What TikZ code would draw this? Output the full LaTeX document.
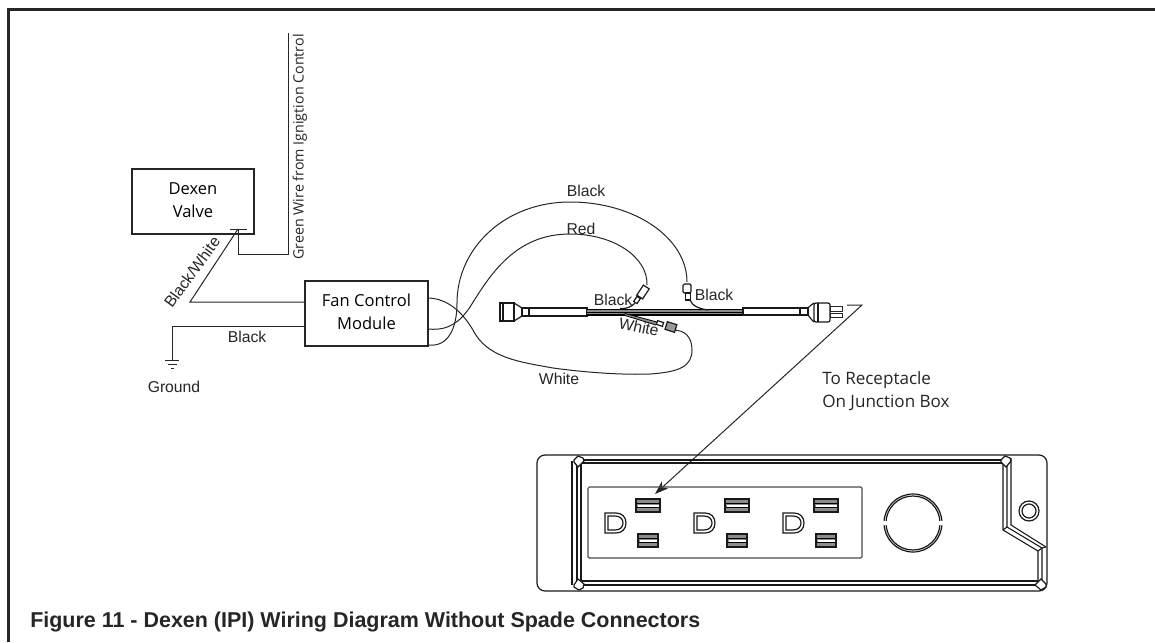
\documentclass[tikz,border=0pt]{standalone}
\usepackage{fontspec}
\setmainfont{Liberation Sans}
\newfontfamily\myr{Open Sans}
\usetikzlibrary{arrows.meta}
\tikzset{
 wire/.style={draw=black!85,line width=0.75pt},
 boxnode/.style={draw=black!85,line width=1.3pt,rectangle,inner sep=0pt,align=center,font=\myr\fontsize{12.4}{17.2}\selectfont},
 lab/.style={inner sep=0pt,font=\fontsize{11.8}{14}\selectfont,text=black!85},
 lbm/.style={inner sep=0pt,font=\myr\fontsize{10.7}{15}\selectfont,text=black!85},
 part/.style={draw=black!90,line width=0.9pt},
 fr/.style={draw=black!90,line width=0.8pt},
 gr/.style={draw=black!70,line width=0.9pt},
}
\newcommand{\slotbox}[4]{%
  \fill[black!45] (#1,#3) rectangle (#2,#4);
  \fill[white] ({#1+1.5},{#3+5.5}) rectangle ({#2-1.5},{#3+8});
  \draw[black,line width=0.5pt] (#1,{#3+4.5}) -- (#2,{#3+4.5}) ({#1},{#3+8.5}) -- (#2,{#3+8.5});
  \draw[part] (#1,#3) rectangle (#2,#4);}
\newcommand{\dshape}[1]{%
  \begin{scope}[shift={(#1,0)}]
  \draw[part] (605,513) -- (616,513) .. controls (622,513) and (626,517) .. (626,523) .. controls (626,529) and (622,533) .. (616,533) -- (605,533) -- cycle;
  \draw[part] (608,516) -- (615,516) .. controls (620,516) and (623,519) .. (623,523) .. controls (623,527) and (620,530) .. (615,530) -- (608,530) -- cycle;
  \end{scope}}
\begin{document}
\begin{tikzpicture}[x=0.75pt,y=-0.75pt]
\useasboundingbox (0,0) rectangle (1155,642);
\fill[white] (0,0) rectangle (1155,642);
\draw[black!85,line width=2pt] (1155,9.5) -- (8.5,9.5) -- (8.5,642);
% boxes
\node[boxnode,minimum width=91.5pt,minimum height=48.75pt] (valve) at (193,201.5) {\raisebox{2.6pt}{\begin{tabular}{@{}c@{}}Dexen\\Valve\end{tabular}}};
\node[boxnode,minimum width=92.25pt,minimum height=48.75pt] (fan) at (366.5,313.5) {\raisebox{3pt}{\begin{tabular}{@{}c@{}}Fan Control\\Module\end{tabular}}};
\coordinate (t) at (238,229);
\coordinate (tl) at (230,229);
\coordinate (tr) at (247,229);
\coordinate (g1) at (288,254);
\coordinate (g2) at (288,33);
\coordinate (bw) at (190,302);
\coordinate (gnd) at (172,360);
\draw[wire] (tl) -- (tr);
\draw[wire] (t) |- (g1) -- (g2);
\draw[wire] (t) -- (bw) -- (fan.west |- bw);
\draw[wire] (fan.west |- 0,326) -- (172,326) -- (gnd);
\draw[wire] (165,360) -- (179,360) (168,364) -- (177,364) (171,368) -- (174,368);
\node[lab] (lg) at (174,387) {Ground};
\node[lab] (l1) at (247,337) {Black};
\node[lab,rotate=54] (blw) at (192,272) {Black/White};
\node[lbm,rotate=90] (gw) at (300,147) {Green Wire from Ignigtion Control};
% fan wires
\coordinate (fb) at (fan.east |- 0,345);
\coordinate (fr1) at (fan.east |- 0,329);
\coordinate (fw) at (fan.east |- 0,298);
\draw[wire] (fb) .. controls (447,347) and (457,330) .. (457,303) .. controls (457,248) and (505,202) .. (570,202) .. controls (635,202) and (687,238) .. (687,282);
\draw[wire] (fr1) .. controls (448,331) and (460,322) .. (470,307) .. controls (490,275) and (515,234) .. (570,234) .. controls (615,234) and (648,258) .. (647,285);
\draw[wire] (fw) .. controls (450,299) and (464,315) .. (473,330) .. controls (487,358) and (520,362) .. (553,368) .. controls (590,373) and (625,375) .. (650,374) .. controls (680,372) and (692,366) .. (692,350) .. controls (692,337) and (685,330) .. (673,330);
\node[lab] (l2) at (586,191) {Black};
\node[lab] (l3) at (581,229) {Red};
\node[lab] (l4) at (613,300) {Black};
\node[lab,rotate=-12] (l5) at (639,327) {White};
\node[lab] (l6) at (559,379) {White};
\node[lab] (l7) at (714,295) {Black};
% harness
\draw[part] (500,303) rectangle (514,321);
\draw[part] (503,303) -- (503,321);
\draw[part] (514,303) -- (522,308) (514,321) -- (522,316);
\draw[part] (522,308) rectangle (587,316);
\draw[part] (529,308) -- (529,316);
\fill[black!45] (587,309.5) rectangle (743,315);
\draw[black,line width=0.8pt] (587,309.5) -- (743,309.5) (587,312.2) -- (743,312.2) (587,315) -- (743,315);
\draw[part] (743,308) rectangle (800,315);
\draw[part] (800,308) rectangle (808,315);
\draw[part] (808,308) .. controls (810,306) and (812,304) .. (814,303) (808,315) .. controls (810,318) and (812,320) .. (814,322);
\draw[part,rounded corners=1.5pt] (814,303) rectangle (830,322);
\draw[part] (818,303) -- (818,322);
\draw[wire] (830,306) rectangle (842,311);
\draw[wire] (830,313) rectangle (842,317);
% branch wires and terminals
\draw[part] (620,308.5) .. controls (628,309) and (632,306) .. (635,303);
\draw[part,fill=white] (642.6,298.9) -- (636.8,295.1) -- (643.4,285.1) -- (649.2,288.9) -- cycle;
\draw[part,fill=white] (637,303.6) -- (633.7,301.4) -- (637,296.4) -- (640.3,298.6) -- cycle;
\draw[part] (690,300) .. controls (692,306) and (700,309) .. (708,310);
\draw[part,fill=white,rounded corners=1pt] (683,284) rectangle (691,293);
\draw[part,fill=white] (685.5,293) rectangle (690.5,300);
\fill[black!45] (625,313.5) -- (657,322) -- (656,325) -- (625,315.5) -- cycle;
\draw[black,line width=0.6pt] (625,313.5) -- (657,322) (625,315.5) -- (656,325);
\draw[part,fill=white] (662.4,326.4) -- (663.6,322.6) -- (657.6,320.6) -- (656.4,324.4) -- cycle;
\draw[part,fill=black!40] (674.5,332.3) -- (676.9,324.7) -- (667.4,321.7) -- (665,329.3) -- cycle;
% arrow
\coordinate (ap0) at (847,305);
\coordinate (ap) at (862,305);
\coordinate (tip) at (655,494);
\draw[wire,-{Stealth[length=10pt,width=7pt,inset=2.5pt]}] (ap0) -- (ap) -- (tip);
\node[lbm,font=\myr\fontsize{12.8}{17.2}\selectfont,anchor=west] (r1) at (822,380) {To Receptacle};
\node[lbm,font=\myr\fontsize{12.8}{17.2}\selectfont,anchor=west] (r2) at (822,403) {On Junction Box};
\node[lab,anchor=west,font=\bfseries\fontsize{16.1}{18}\selectfont] (cap) at (30,622) {Figure 11 - Dexen (IPI) Wiring Diagram Without Spade Connectors};
% junction box
\draw[part,rounded corners=6pt] (700,455) -- (537,455) -- (537,591) -- (1047,591) -- (1047,455) -- cycle;
\draw[fr] (578,460) -- (1005,460) (581,463) -- (1003,463);
\draw[fr] (572,461) -- (572,585) (577,464) -- (577,581) (581,463) -- (581,581);
\draw[fr] (578,585) -- (1038,585) (581,581) -- (1038,581);
\draw[fr] (1003,463) -- (1003,530) -- (1038,551) -- (1038,582);
\draw[fr] (1007,462) -- (1007,527) -- (1042,548) -- (1042,582);
\draw[fr] (1011,458) -- (1011,525) -- (1046,547);
\draw[fr] (1003,530) -- (1007,527) (1038,551) -- (1042,548) -- (1046,547);
\draw[part,fill=white] (578,456) -- (583,458) -- (584,461) -- (578,467) -- (574,462) -- (574,460) -- cycle;
\draw[part,fill=white] (574,585) -- (578,579) -- (584,584) -- (583,588) -- (579,590) -- (574,587) -- cycle;
\draw[part,fill=white] (1005,456) -- (1010,458) -- (1011,461) -- (1006,467) -- (1001,462) -- (1001,460) -- cycle;
\draw[part,fill=white] (1041,579) -- (1046,584) -- (1046,587) -- (1041,590) -- (1035,585) -- cycle;
\draw[gr,rounded corners=1pt] (588,487) rectangle (862,558);
\foreach \o in {0,89,178}{
  \slotbox{636+\o}{660+\o}{499}{512}
  \slotbox{638+\o}{658+\o}{534}{547}
  \dshape{\o}
}
\draw[part] (913,523) circle (29) circle (27);
\fill[white] (880,521) rectangle (890,525) (936,521) rectangle (946,525);
\draw[part] (1029,511) circle (10) circle (7);
\end{tikzpicture}
\end{document}
